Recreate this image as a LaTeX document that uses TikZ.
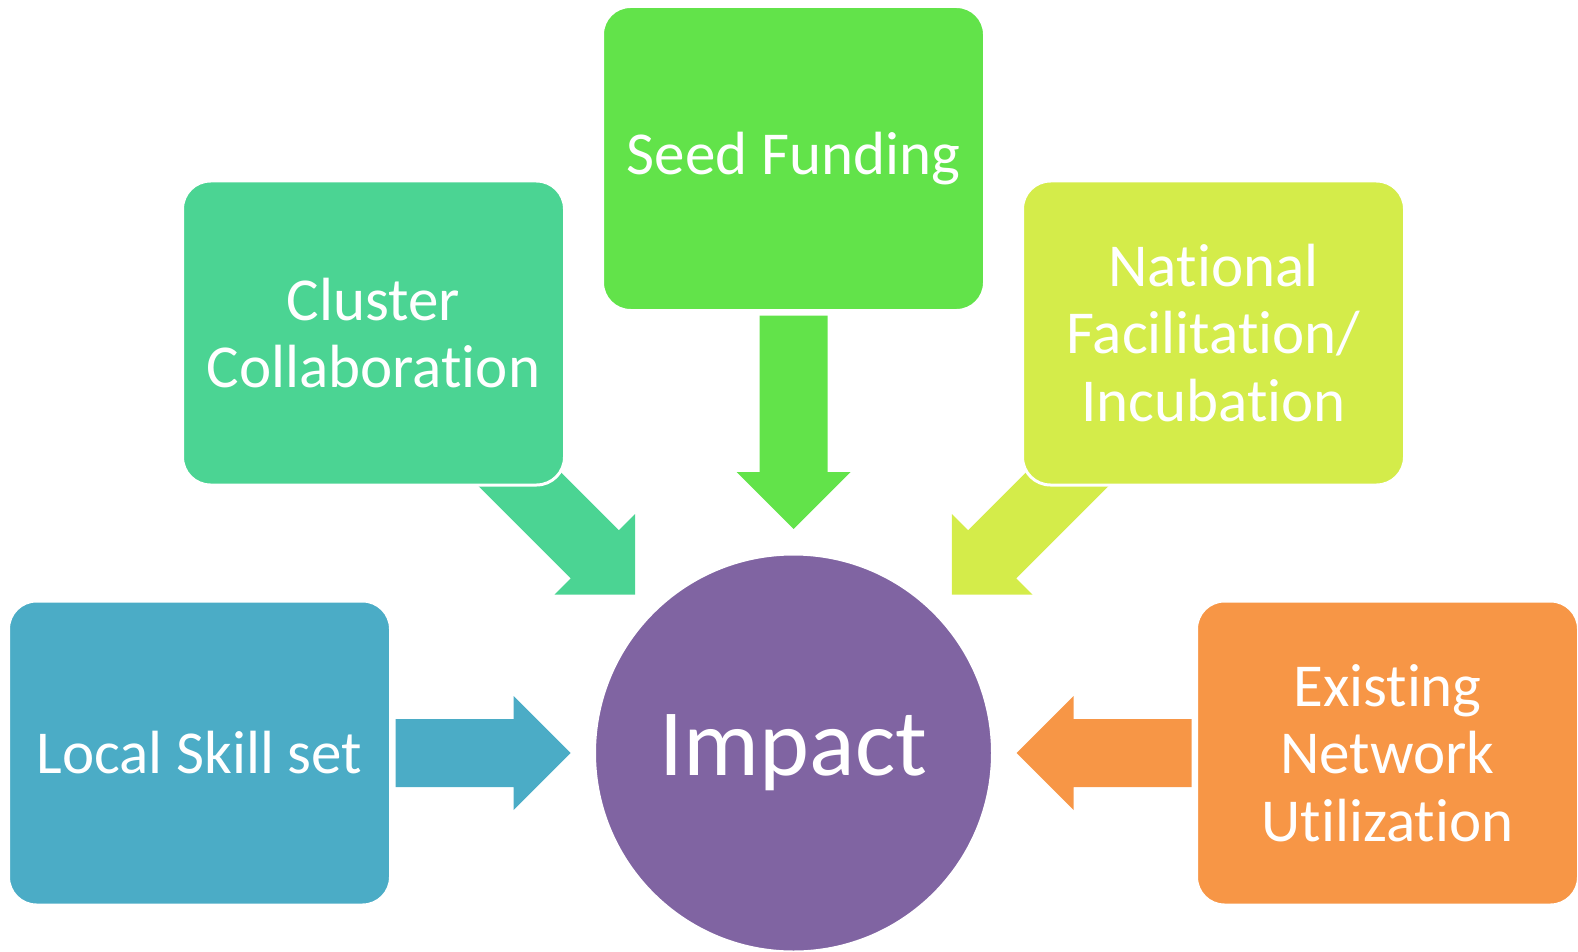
\documentclass[tikz,border=0pt]{standalone}
\usepackage{fontspec}
\setmainfont{Carlito}[Ligatures={NoCommon}]
\usetikzlibrary{calc}

\definecolor{seedgreen}{HTML}{62E34A}
\definecolor{clustergreen}{HTML}{4BD493}
\definecolor{nationalyellow}{HTML}{D4EC4A}
\definecolor{localblue}{HTML}{4BACC6}
\definecolor{existingorange}{HTML}{F79646}
\definecolor{impactpurple}{HTML}{8064A2}

\newcommand{\fatarrow}[3]{%
    \fill[#3] let \p1=($(#2)-(#1)$), \n1={atan2(\y1,\x1)} in
        ($(#1)+(\n1+90:34pt)$) -- ($(#2)+(\n1+180:57pt)+(\n1+90:34pt)$)
        -- ($(#2)+(\n1+180:57pt)+(\n1+90:57pt)$) -- (#2)
        -- ($(#2)+(\n1+180:57pt)+(\n1-90:57pt)$) -- ($(#2)+(\n1+180:57pt)+(\n1-90:34pt)$)
        -- ($(#1)+(\n1-90:34pt)$) -- cycle;}

\begin{document}
\begin{tikzpicture}[x=1pt, y=1pt,
    box/.style={rectangle, rounded corners=28pt, draw=white, line width=3pt,
        minimum width=382pt, minimum height=304pt, inner sep=0pt, outer sep=0pt,
        align=center, text=white, font=\fontsize{61}{67.5}\selectfont}]
    \useasboundingbox (0, 0) rectangle (1578, -952);

    \node[circle, fill=impactpurple, draw=white, line width=3pt, minimum size=398pt,
        inner sep=0pt, outer sep=0pt, text=white, font=\fontsize{95}{110}\selectfont]
        (impact) at (793.5, -753) {\raisebox{-4pt}{Impact}};
    \node[box, fill=seedgreen] (seed) at (793.5, -158.5) {Seed Funding};
    \node[box, fill=localblue] (local) at (199.5, -753) {Local Skill set};
    \node[box, fill=existingorange] (existing) at (1387.5, -753) {Existing\\Network\\Utilization};

    \coordinate (seedstart) at ([yshift=-5pt]seed.south);
    \coordinate (seedtip) at ([yshift=25pt]impact.north);
    \coordinate (clusterstart) at (494.5, -454);
    \coordinate (clustertip) at ([shift={(135:25pt)}]impact.north west);
    \coordinate (nationalstart) at (1092.5, -454);
    \coordinate (nationaltip) at ([shift={(45:25pt)}]impact.north east);
    \coordinate (localstart) at ([xshift=5pt]local.east);
    \coordinate (localtip) at ([xshift=-24pt]impact.west);
    \coordinate (existingstart) at ([xshift=-5pt]existing.west);
    \coordinate (existingtip) at ([xshift=24pt]impact.east);

    \fatarrow{seedstart}{seedtip}{seedgreen}
    \fatarrow{clusterstart}{clustertip}{clustergreen}
    \fatarrow{nationalstart}{nationaltip}{nationalyellow}
    \fatarrow{localstart}{localtip}{localblue}
    \fatarrow{existingstart}{existingtip}{existingorange}

    \node[box, fill=clustergreen] (cluster) at (373.5, -333) {Cluster\\Collaboration};
    \node[box, fill=nationalyellow] (national) at (1213.5, -333) {National\\Facilitation/\\Incubation};
\end{tikzpicture}
\end{document}
